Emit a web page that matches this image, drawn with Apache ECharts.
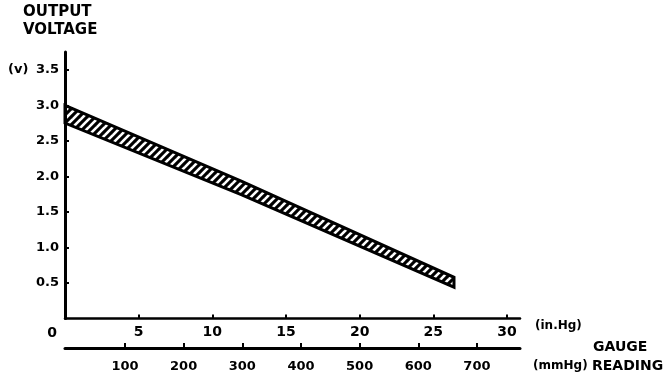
<!DOCTYPE html>
<html>
<head>
<meta charset="utf-8">
<script src="https://cdn.jsdelivr.net/npm/echarts@6/dist/echarts.min.js"></script>
<style>html,body{margin:0;padding:0;background:#fff;}#c{width:672px;height:380px;}</style>
</head>
<body>
<div id="c"></div>
<script>
// Gauge reading (in.Hg) at band sample points
var gaugeInHg = [0, 12, 26.4];
// Output voltage band edges (V)
var upperVolts = [3.0, 1.93, 0.58];
var lowerVolts = [2.75, 1.74, 0.44];
// Tick labels
var voltTicks = [0.5, 1.0, 1.5, 2.0, 2.5, 3.0, 3.5];
var inHgTicks = [5, 10, 15, 20, 25, 30];
var mmHgTicks = [100, 200, 300, 400, 500, 600, 700];

var FONT = '"DejaVu Sans", sans-serif';

function hatch() {
  var c = document.createElement('canvas');
  c.width = 8; c.height = 8;
  var g = c.getContext('2d');
  g.fillStyle = '#000'; g.fillRect(0, 0, 8, 8);
  g.strokeStyle = '#fff'; g.lineWidth = 2.6;
  for (var o = -8; o <= 8; o += 8) {
    g.beginPath(); g.moveTo(o - 1, 9); g.lineTo(o + 9, -1); g.stroke();
  }
  return c;
}
var hatchImg = hatch();

var chart = echarts.init(document.getElementById('c'), null, {renderer: 'canvas'});
chart.setOption({
  animation: false,
  backgroundColor: '#fff',
  grid: {left: 65, top: 52, width: 455, height: 266.5, containLabel: false},
  yAxis: {
    type: 'value', min: 0, max: 3.75, z: 10,
    axisLine: {show: true, onZero: false, lineStyle: {color: '#000', width: 3}},
    axisTick: {show: true, inside: true, length: 4, lineStyle: {color: '#000', width: 2}, customValues: voltTicks},
    axisLabel: {show: true, customValues: voltTicks, margin: 6, color: '#000', fontFamily: FONT, fontWeight: 'bold', fontSize: 13,
      formatter: function (v) { return v.toFixed(1); }},
    splitLine: {show: false}
  },
  xAxis: [{
    type: 'value', min: 0, max: 30.88, position: 'bottom', z: 10,
    axisLine: {show: true, onZero: false, lineStyle: {color: '#000', width: 2.5}},
    axisTick: {show: true, inside: true, length: 4, lineStyle: {color: '#000', width: 2}, customValues: inHgTicks},
    axisLabel: {show: true, customValues: inHgTicks, margin: 7, color: '#000', fontFamily: FONT, fontWeight: 'bold', fontSize: 14},
    splitLine: {show: false}
  }, {
    type: 'value', min: -2.2, max: 773.4, position: 'bottom', offset: 29.5, z: 10,
    axisLine: {show: true, onZero: false, lineStyle: {color: '#000', width: 3}},
    axisTick: {show: true, inside: true, length: 5, lineStyle: {color: '#000', width: 2}, customValues: mmHgTicks},
    axisLabel: {show: true, customValues: mmHgTicks, margin: 12, color: '#000', fontFamily: FONT, fontWeight: 'bold', fontSize: 13},
    splitLine: {show: false}
  }],
  series: [{
    type: 'custom', xAxisIndex: 0, yAxisIndex: 0,
    data: [[gaugeInHg[0], upperVolts[0]]],
    renderItem: function (params, api) {
      var pts = [];
      for (var i = 0; i < gaugeInHg.length; i++) pts.push(api.coord([gaugeInHg[i], upperVolts[i]]));
      for (var j = gaugeInHg.length - 1; j >= 0; j--) pts.push(api.coord([gaugeInHg[j], lowerVolts[j]]));
      return {
        type: 'polygon',
        shape: {points: pts},
        style: {fill: {image: hatchImg, repeat: 'repeat'}, stroke: '#000', lineWidth: 3, lineJoin: 'miter'}
      };
    },
    z: 2
  }],
  graphic: [
    {type: 'text', x: 23, y: 12, style: {text: 'OUTPUT', fill: '#000', font: 'bold 15px ' + FONT, textVerticalAlign: 'middle'}},
    {type: 'text', x: 23, y: 30, style: {text: 'VOLTAGE', fill: '#000', font: 'bold 15px ' + FONT, textVerticalAlign: 'middle'}},
    {type: 'text', x: 8, y: 70, style: {text: '(v)', fill: '#000', font: 'bold 13px ' + FONT, textVerticalAlign: 'middle'}},
    {type: 'text', x: 52, y: 333, style: {text: '0', fill: '#000', font: 'bold 14px ' + FONT, textAlign: 'center', textVerticalAlign: 'middle'}},
    {type: 'text', x: 535, y: 326, style: {text: '(in.Hg)', fill: '#000', font: 'bold 12px ' + FONT, textVerticalAlign: 'middle'}},
    {type: 'text', x: 533, y: 366, style: {text: '(mmHg)', fill: '#000', font: 'bold 12px ' + FONT, textVerticalAlign: 'middle'}},
    {type: 'text', x: 593, y: 347, style: {text: 'GAUGE', fill: '#000', font: 'bold 14px ' + FONT, textVerticalAlign: 'middle'}},
    {type: 'text', x: 592, y: 366, style: {text: 'READING', fill: '#000', font: 'bold 14px ' + FONT, textVerticalAlign: 'middle'}}
  ]
});
</script>
</body>
</html>
